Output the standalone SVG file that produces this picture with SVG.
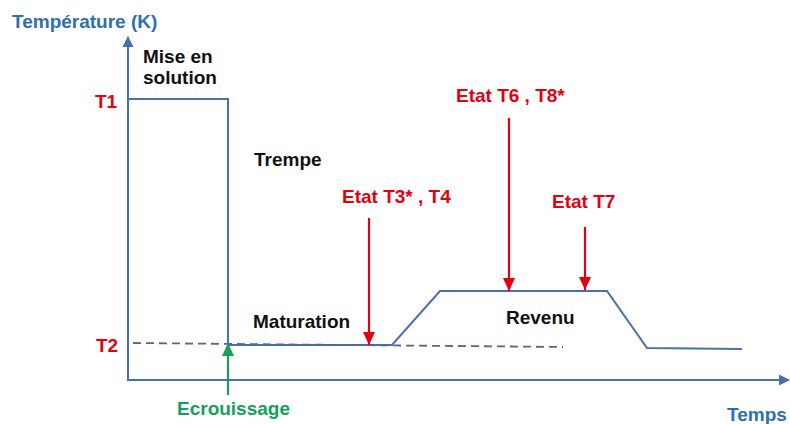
<svg xmlns="http://www.w3.org/2000/svg" width="790" height="424" viewBox="0 0 790 424">
<style>
.t{font-family:"Liberation Sans",Arial,sans-serif;font-weight:bold;font-size:19px}
.blk{fill:#111}
.red{fill:#e4000f}
.blue{fill:#2e6fb0}
.grn{fill:#13a05a}
.ax{stroke:#4a6fae;stroke-width:2;fill:none}
.cv{stroke:#4a6fae;stroke-width:2;fill:none}
.ra{stroke:#e4000f;stroke-width:2.2;fill:none}
.ga{stroke:#13a05a;stroke-width:2.2;fill:none}
</style>
<defs>
<marker id="axh" markerWidth="11" markerHeight="11" refX="10" refY="5.5" orient="auto" markerUnits="userSpaceOnUse">
<path d="M0,0 L11,5.5 L0,11 Z" fill="#4a6fae"/>
</marker>
<marker id="rh" markerWidth="13" markerHeight="12" refX="13" refY="6" orient="auto" markerUnits="userSpaceOnUse">
<path d="M0,0 L13,6 L0,12 Z" fill="#e4000f"/>
</marker>
<marker id="gh" markerWidth="13" markerHeight="12" refX="13" refY="6" orient="auto" markerUnits="userSpaceOnUse">
<path d="M0,0 L13,6 L0,12 Z" fill="#13a05a"/>
</marker>
</defs>
<rect width="790" height="424" fill="#fff"/>
<g id="axes">
<line class="ax" x1="128" y1="380" x2="128" y2="37" marker-end="url(#axh)"/>
<line class="ax" x1="127" y1="380" x2="789" y2="380" marker-end="url(#axh)"/>
<text class="t blue" x="12" y="28">Température (K)</text>
<text class="t blue" x="727" y="421">Temps</text>
<text class="t red" x="95" y="108">T1</text>
<text class="t red" x="96" y="352">T2</text>
</g>
<g id="curve">
<polyline class="cv" points="128,99 228,99 228,345 392,345 440,291 607,291 647,348 742,349"/>
<line x1="133" y1="343" x2="563" y2="347" stroke="#56678a" stroke-width="1.8" stroke-dasharray="8,5"/>
</g>
<g id="labels">
<text class="t blk" x="143" y="63">Mise en</text>
<text class="t blk" x="143" y="84">solution</text>
<text class="t blk" x="254" y="166">Trempe</text>
<text class="t blk" x="253" y="328">Maturation</text>
<text class="t blk" x="506" y="324">Revenu</text>
</g>
<g id="etat-t3">
<text class="t red" x="342" y="203">Etat T3* , T4</text>
</g>
<g id="etat-t6">
<text class="t red" x="456" y="102">Etat T6 , T8*</text>
</g>
<g id="etat-t7">
<text class="t red" x="552" y="208">Etat T7</text>
</g>
<g id="ecrouissage">
<text class="t grn" x="177" y="415">Ecrouissage</text>
</g>
<g id="connectors">
<line class="ra" x1="369" y1="218" x2="369" y2="345" marker-end="url(#rh)"/>
<line class="ra" x1="509" y1="118" x2="509" y2="291" marker-end="url(#rh)"/>
<line class="ra" x1="585" y1="227" x2="585" y2="290" marker-end="url(#rh)"/>
<line class="ga" x1="228" y1="395" x2="228" y2="343" marker-end="url(#gh)"/>
</g>
</svg>
